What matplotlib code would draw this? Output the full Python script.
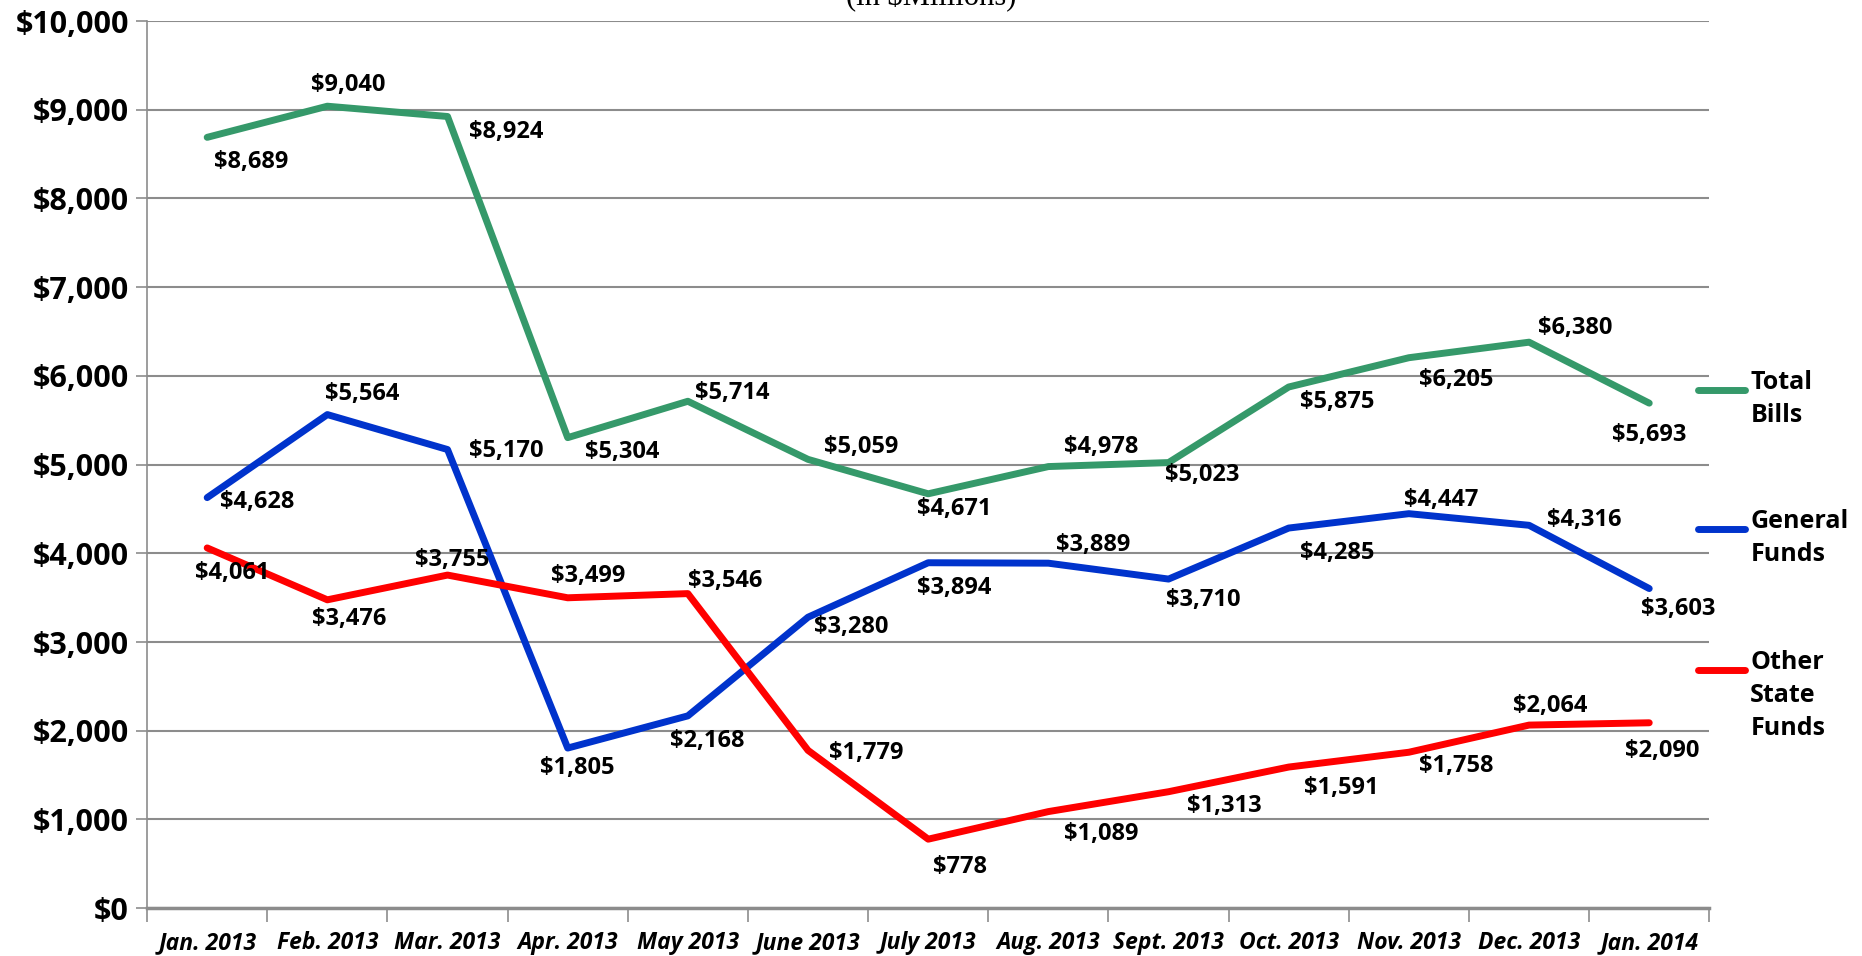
import matplotlib
matplotlib.use('Agg')
import matplotlib.pyplot as plt
from matplotlib.lines import Line2D
import numpy as np

months = ['Jan. 2013', 'Feb. 2013', 'Mar. 2013', 'Apr. 2013', 'May 2013', 'June 2013',
          'July 2013', 'Aug. 2013', 'Sept. 2013', 'Oct. 2013', 'Nov. 2013', 'Dec. 2013', 'Jan. 2014']
total_bills = [8689, 9040, 8924, 5304, 5714, 5059, 4671, 4978, 5023, 5875, 6205, 6380, 5693]
general_funds = [4628, 5564, 5170, 1805, 2168, 3280, 3894, 3889, 3710, 4285, 4447, 4316, 3603]
other_funds = [4061, 3476, 3755, 3499, 3546, 1779, 778, 1089, 1313, 1591, 1758, 2064, 2090]

# label offsets in points (dx, dy)
off_total = [(32, -18), (15, 15), (42, -11), (39, -10), (32, 6), (38, 9), (19, -11),
             (38, 14), (24, -9), (35, -11), (34, -16), (33, 10), (0, -23)]
off_general = [(36, -3), (25, 15), (42, -1), (7, -14), (14, -18), (31, -7), (19, -18),
               (32, 13), (25, -15), (35, -18), (23, 10), (40, 4), (21, -15)]
off_other = [(18, -18), (16, -14), (3, 11), (15, 16), (27, 9), (42, -2), (23, -20),
             (38, -16), (40, -10), (38, -15), (34, -10), (15, 14), (9, -20)]

green = '#35996a'
blue = '#0033cc'
red = '#ff0000'
font = 'Open Sans'

fig = plt.figure(figsize=(18.62, 9.56), dpi=100)
ax = fig.add_axes([0.079, 0.050, 0.839, 0.928])

x = np.arange(len(months))
series = [(total_bills, green, off_total), (general_funds, blue, off_general), (other_funds, red, off_other)]
for vals, col, offs in series:
    ax.plot(x, vals, color=col, lw=5, solid_capstyle='round', solid_joinstyle='round', zorder=3)
    for xi, v, (dx, dy) in zip(x, vals, offs):
        ax.annotate('${:,}'.format(v), (xi, v), xytext=(dx, dy), textcoords='offset points',
                    ha='center', va='center', fontsize=17, fontweight='bold', family=font, zorder=4)

ax.set_xlim(-0.5, len(months) - 0.5)
ax.set_ylim(0, 10000)
ax.set_yticks(np.arange(0, 10001, 1000))
ax.set_yticklabels(['${:,}'.format(v) for v in range(0, 10001, 1000)],
                   fontsize=22, fontweight='bold', family=font)
ax.yaxis.grid(True, color='#8c8c8c', lw=1.5)
ax.set_axisbelow(True)

ax.set_xticks(x)
ax.set_xticklabels(months, fontsize=16.5, fontweight='bold', style='italic', family=font)
ax.set_xticks(np.arange(-0.5, len(months)), minor=True)
ax.tick_params(axis='x', which='major', length=0, pad=16.5)
ax.tick_params(axis='x', which='minor', length=10, color='#8c8c8c', width=1.2)
ax.tick_params(axis='y', length=8, color='#8c8c8c', width=1.2, pad=5)

for s in ['top', 'right']:
    ax.spines[s].set_visible(False)
ax.spines['left'].set_color('#8c8c8c')
ax.spines['left'].set_linewidth(1.2)
ax.spines['bottom'].set_color('#8c8c8c')
ax.spines['bottom'].set_linewidth(2.5)

# legend
legend_items = [('Total\nBills', green, 0.592), ('General\nFunds', blue, 0.447), ('Other\nState\nFunds', red, 0.299)]
for text, col, yy in legend_items:
    fig.add_artist(Line2D([0.912, 0.937], [yy, yy], color=col, lw=5, solid_capstyle='round',
                          transform=fig.transFigure))
    fig.text(0.940, yy + 0.021, text, ha='left', va='top', fontsize=18, fontweight='bold',
             family=font, linespacing=1.42)

fig.text(0.5, 1.003, '(in $Millions)', ha='center', va='center', fontsize=22, family='Liberation Serif')

fig.savefig('out.png', dpi=100)
